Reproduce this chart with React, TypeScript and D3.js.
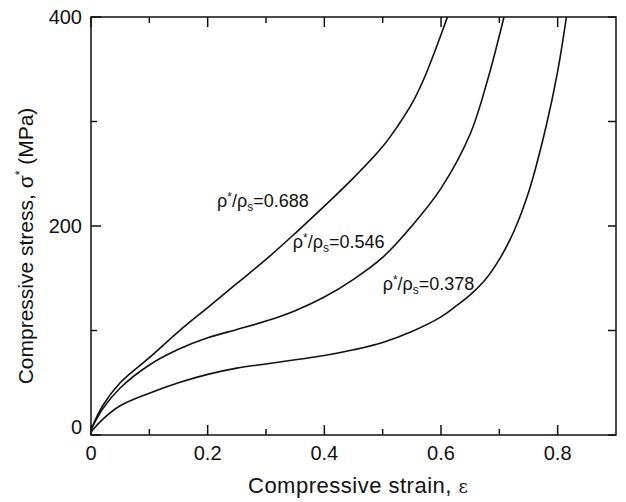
import React, { useRef, useEffect } from 'react';
import * as d3 from 'd3';

// strain values and stress (MPa), one pair of arrays per density
const strainHigh = [0, 0.02, 0.05, 0.1, 0.15, 0.2, 0.25, 0.3, 0.35, 0.4, 0.45, 0.5, 0.525, 0.55, 0.57, 0.59, 0.611];
const stressHigh = [5, 28, 50, 74, 99, 122, 145, 168, 193, 219, 246, 276, 295, 317, 340, 368, 400];

const strainMid = [0, 0.02, 0.05, 0.1, 0.15, 0.2, 0.25, 0.3, 0.35, 0.4, 0.45, 0.5, 0.55, 0.6, 0.65, 0.68, 0.708];
const stressMid = [5, 25, 45, 67, 82, 93, 101, 109, 119, 132, 149, 170, 200, 236, 288, 340, 400];

const strainLow = [0, 0.02, 0.05, 0.1, 0.15, 0.2, 0.25, 0.3, 0.35, 0.4, 0.45, 0.5, 0.55, 0.6, 0.625, 0.65, 0.675, 0.7, 0.725, 0.75, 0.78, 0.8, 0.815];
const stressLow = [3, 15, 28, 40, 50, 58, 64, 68, 72, 76, 81.5, 88.5, 99, 113, 123, 134, 148, 168, 195, 232, 295, 348, 400];

const densityLabels = ['0.688', '0.546', '0.378'];
// label anchor in data coords (left edge, baseline)
const labelStrain = [0.216, 0.346, 0.5];
const labelStress = [218, 179, 139];

const xMajor = [0, 0.2, 0.4, 0.6, 0.8];
const xMinor = [0.1, 0.3, 0.5, 0.7];
const yMajor = [0, 200, 400];
const yMinor = [100, 300];

const W = 626;
const H = 502;
const FONT = '"Liberation Sans", Arial, Helvetica, sans-serif';
const INK = '#111';

export default function App() {
  const svgRef = useRef<SVGSVGElement>(null);

  useEffect(() => {
    document.body.style.margin = '0';
    const svg = d3.select(svgRef.current);
    svg.selectAll('*').remove();

    const left = 91, right = 616, top = 17, bottom = 435;

    const x = d3.scaleLinear().domain([0, 0.9]).range([left, right]);
    const y = d3.scaleLinear().domain([0, 400]).range([bottom, top]);

    const g = svg.append('g');

    // clip curves to the frame
    svg.append('defs').append('clipPath').attr('id', 'plot-clip')
      .append('rect')
      .attr('x', left).attr('y', top)
      .attr('width', right - left).attr('height', bottom - top);

    const series = [
      { xs: strainHigh, ys: stressHigh },
      { xs: strainMid, ys: stressMid },
      { xs: strainLow, ys: stressLow },
    ];

    const line = d3.line<[number, number]>()
      .x(d => x(d[0]))
      .y(d => y(d[1]))
      .curve(d3.curveCatmullRom.alpha(0.5));

    series.forEach(s => {
      const pts = s.xs.map((v, i) => [v, s.ys[i]] as [number, number]);
      g.append('path')
        .attr('d', line(pts))
        .attr('fill', 'none')
        .attr('stroke', INK)
        .attr('stroke-width', 1.6)
        .attr('clip-path', 'url(#plot-clip)');
    });

    // frame
    g.append('rect')
      .attr('x', left).attr('y', top)
      .attr('width', right - left).attr('height', bottom - top)
      .attr('fill', 'none')
      .attr('stroke', INK)
      .attr('stroke-width', 1.5);

    const tick = (x1: number, y1: number, x2: number, y2: number) => {
      g.append('line')
        .attr('x1', x1).attr('y1', y1).attr('x2', x2).attr('y2', y2)
        .attr('stroke', INK).attr('stroke-width', 1.5);
    };

    const majorLen = 10, minorLen = 6;
    xMajor.forEach(v => { tick(x(v), bottom, x(v), bottom - majorLen); tick(x(v), top, x(v), top + majorLen); });
    xMinor.forEach(v => { tick(x(v), bottom, x(v), bottom - minorLen); tick(x(v), top, x(v), top + minorLen); });
    yMajor.forEach(v => { tick(left, y(v), left + majorLen, y(v)); tick(right, y(v), right - 8, y(v)); });
    yMinor.forEach(v => { tick(left, y(v), left + minorLen, y(v)); tick(right, y(v), right - 8, y(v)); });

    // tick labels
    xMajor.forEach(v => {
      g.append('text')
        .attr('x', x(v)).attr('y', 460)
        .attr('text-anchor', 'middle')
        .style('font-family', FONT).style('font-size', '20px')
        .attr('fill', INK)
        .text(v === 0 ? '0' : d3.format('.1f')(v));
    });
    yMajor.forEach(v => {
      g.append('text')
        .attr('x', 82).attr('y', y(v) + (v === 0 ? -8 : 0))
        .attr('dy', '0.35em')
        .attr('text-anchor', 'end')
        .style('font-family', FONT).style('font-size', '20px')
        .attr('fill', INK)
        .text(String(v));
    });

    // axis titles
    const xt = g.append('text')
      .attr('x', 248).attr('y', 493)
      .style('font-family', FONT).style('font-size', '22px')
      .style('letter-spacing', '0.5px')
      .attr('fill', INK);
    xt.append('tspan').text('Compressive strain, ');
    xt.append('tspan').style('font-family', '"DejaVu Serif", serif').style('font-size', '18px').text('ε');

    const yt = g.append('text')
      .attr('transform', 'translate(33,246) rotate(-90)')
      .attr('text-anchor', 'middle')
      .style('font-family', FONT).style('font-size', '21px')
      .attr('fill', INK);
    yt.append('tspan').text('Compressive stress, σ');
    yt.append('tspan').attr('dy', -9).style('font-size', '12px').text('*');
    yt.append('tspan').attr('dy', 9).text(' (MPa)');

    // density labels
    densityLabels.forEach((lab, i) => {
      const t = g.append('text')
        .attr('x', x(labelStrain[i])).attr('y', y(labelStress[i]))
        .style('font-family', FONT).style('font-size', '18px')
        .attr('fill', INK);
      t.append('tspan').text('ρ');
      t.append('tspan').attr('dy', -6).style('font-size', '12px').text('*');
      t.append('tspan').attr('dy', 6).text('/ρ');
      t.append('tspan').attr('dy', 4).style('font-size', '12px').text('s');
      t.append('tspan').attr('dy', -4).text('=' + lab);
    });
  }, []);

  return (
    <div style={{ width: W, height: H }}>
      <svg ref={svgRef} width={W} height={H} style={{ display: 'block', background: '#fff' }} />
    </div>
  );
}
